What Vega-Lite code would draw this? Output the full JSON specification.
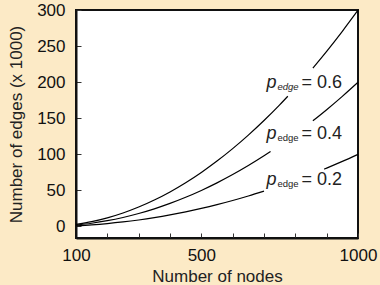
{
  "$schema": "https://vega.github.io/schema/vega-lite/v6.json",
  "width": 282,
  "height": 228,
  "autosize": {"type": "none"},
  "padding": {"left": 76, "top": 10, "right": 22, "bottom": 47},
  "background": "#FCEAC6",
  "config": {
    "view": {"stroke": "#111", "strokeWidth": 2, "fill": "white"},
    "font": "Liberation Sans"
  },
  "datasets": {
    "curves": [
      {"nodes": 100, "edges": 2.97, "seg": "0.6a"},
      {"nodes": 150, "edges": 6.705, "seg": "0.6a"},
      {"nodes": 200, "edges": 11.94, "seg": "0.6a"},
      {"nodes": 250, "edges": 18.675, "seg": "0.6a"},
      {"nodes": 300, "edges": 26.91, "seg": "0.6a"},
      {"nodes": 350, "edges": 36.645, "seg": "0.6a"},
      {"nodes": 400, "edges": 47.88, "seg": "0.6a"},
      {"nodes": 450, "edges": 60.615, "seg": "0.6a"},
      {"nodes": 500, "edges": 74.85, "seg": "0.6a"},
      {"nodes": 550, "edges": 90.585, "seg": "0.6a"},
      {"nodes": 600, "edges": 107.82, "seg": "0.6a"},
      {"nodes": 650, "edges": 126.555, "seg": "0.6a"},
      {"nodes": 700, "edges": 146.79, "seg": "0.6a"},
      {"nodes": 750, "edges": 168.525, "seg": "0.6a"},
      {"nodes": 776, "edges": 180.42, "seg": "0.6a"},
      {"nodes": 856, "edges": 219.56, "seg": "0.6b"},
      {"nodes": 900, "edges": 242.73, "seg": "0.6b"},
      {"nodes": 950, "edges": 270.465, "seg": "0.6b"},
      {"nodes": 1000, "edges": 299.7, "seg": "0.6b"},
      {"nodes": 100, "edges": 1.98, "seg": "0.4a"},
      {"nodes": 150, "edges": 4.47, "seg": "0.4a"},
      {"nodes": 200, "edges": 7.96, "seg": "0.4a"},
      {"nodes": 250, "edges": 12.45, "seg": "0.4a"},
      {"nodes": 300, "edges": 17.94, "seg": "0.4a"},
      {"nodes": 350, "edges": 24.43, "seg": "0.4a"},
      {"nodes": 400, "edges": 31.92, "seg": "0.4a"},
      {"nodes": 450, "edges": 40.41, "seg": "0.4a"},
      {"nodes": 500, "edges": 49.9, "seg": "0.4a"},
      {"nodes": 550, "edges": 60.39, "seg": "0.4a"},
      {"nodes": 600, "edges": 71.88, "seg": "0.4a"},
      {"nodes": 650, "edges": 84.37, "seg": "0.4a"},
      {"nodes": 700, "edges": 97.86, "seg": "0.4a"},
      {"nodes": 721, "edges": 103.82, "seg": "0.4a"},
      {"nodes": 856, "edges": 146.38, "seg": "0.4b"},
      {"nodes": 900, "edges": 161.82, "seg": "0.4b"},
      {"nodes": 950, "edges": 180.31, "seg": "0.4b"},
      {"nodes": 1000, "edges": 199.8, "seg": "0.4b"},
      {"nodes": 100, "edges": 0.99, "seg": "0.2a"},
      {"nodes": 150, "edges": 2.235, "seg": "0.2a"},
      {"nodes": 200, "edges": 3.98, "seg": "0.2a"},
      {"nodes": 250, "edges": 6.225, "seg": "0.2a"},
      {"nodes": 300, "edges": 8.97, "seg": "0.2a"},
      {"nodes": 350, "edges": 12.215, "seg": "0.2a"},
      {"nodes": 400, "edges": 15.96, "seg": "0.2a"},
      {"nodes": 450, "edges": 20.205, "seg": "0.2a"},
      {"nodes": 500, "edges": 24.95, "seg": "0.2a"},
      {"nodes": 550, "edges": 30.195, "seg": "0.2a"},
      {"nodes": 600, "edges": 35.94, "seg": "0.2a"},
      {"nodes": 650, "edges": 42.185, "seg": "0.2a"},
      {"nodes": 700, "edges": 48.93, "seg": "0.2a"},
      {"nodes": 892, "edges": 79.48, "seg": "0.2b"},
      {"nodes": 900, "edges": 80.91, "seg": "0.2b"},
      {"nodes": 950, "edges": 90.155, "seg": "0.2b"},
      {"nodes": 1000, "edges": 99.9, "seg": "0.2b"}
    ],
    "labels": [
      {"nodes": 708, "edges": 191.5, "txt": "= 0.6", "italicsub": true},
      {"nodes": 708, "edges": 120.8, "txt": "= 0.4", "italicsub": false},
      {"nodes": 708, "edges": 57.5, "txt": "= 0.2", "italicsub": false}
    ]
  },
  "encoding": {
    "x": {
      "field": "nodes",
      "type": "quantitative",
      "scale": {"domain": [100, 1000], "nice": false, "zero": false},
      "axis": {
        "title": "Number of nodes",
        "values": [100, 200, 300, 400, 500, 600, 700, 800, 900, 1000],
        "format": "d",
        "labelExpr": "indexof([100, 500, 1000], datum.value) >= 0 ? datum.label : ''",
        "labelOverlap": false,
        "labelFlush": false,
        "labelFontSize": 17,
        "labelColor": "#111",
        "labelPadding": 14,
        "tickSize": -5,
        "tickColor": "#333",
        "tickWidth": 1,
        "domainColor": "#111",
        "domainWidth": 2,
        "grid": false,
        "titleFontSize": 17,
        "titleFontWeight": "normal",
        "titleColor": "#222",
        "titleBaseline": "alphabetic",
        "titleY": 43
      }
    },
    "y": {
      "field": "edges",
      "type": "quantitative",
      "scale": {"domain": [-16, 300], "nice": false, "zero": false},
      "axis": {
        "title": "Number of edges (x 1000)",
        "values": [0, 50, 100, 150, 200, 250, 300],
        "labelFontSize": 17,
        "labelColor": "#111",
        "labelPadding": 16,
        "tickSize": -5,
        "tickColor": "#333",
        "tickWidth": 1,
        "domainColor": "#111",
        "domainWidth": 2,
        "grid": false,
        "titleFontSize": 17,
        "titleFontWeight": "normal",
        "titleColor": "#222",
        "titleBaseline": "middle",
        "titleX": -60,
        "titleY": 114
      }
    }
  },
  "layer": [
    {
      "data": {"name": "curves"},
      "mark": {"type": "line", "color": "black", "strokeWidth": 1.2, "interpolate": "monotone"},
      "encoding": {"detail": {"field": "seg"}}
    },
    {
      "data": {"name": "labels"},
      "mark": {"type": "text", "text": "p", "align": "left", "baseline": "alphabetic", "fontStyle": "italic", "fontSize": 18, "color": "#222"}
    },
    {
      "data": {"name": "labels"},
      "transform": [{"filter": "datum.italicsub"}],
      "mark": {"type": "text", "text": "edge", "align": "left", "baseline": "alphabetic", "fontStyle": "italic", "fontSize": 9.5, "dx": 11, "dy": 2, "color": "#222"}
    },
    {
      "data": {"name": "labels"},
      "transform": [{"filter": "!datum.italicsub"}],
      "mark": {"type": "text", "text": "edge", "align": "left", "baseline": "alphabetic", "fontSize": 9.5, "dx": 11, "dy": 2, "color": "#222"}
    },
    {
      "data": {"name": "labels"},
      "mark": {"type": "text", "align": "left", "baseline": "alphabetic", "fontSize": 18, "dx": 35, "color": "#222"},
      "encoding": {"text": {"field": "txt"}}
    }
  ]
}
